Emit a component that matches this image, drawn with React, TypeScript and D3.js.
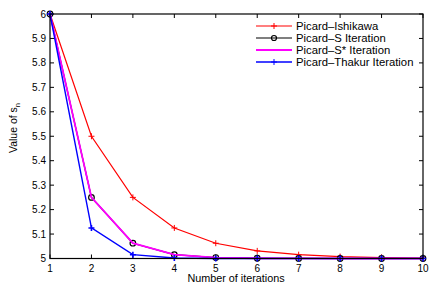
import React from "react";
import * as d3 from "d3";

const iterations = [1, 2, 3, 4, 5, 6, 7, 8, 9, 10];
const ishikawa = [6, 5.5, 5.25, 5.125, 5.0625, 5.03125, 5.015625, 5.0078, 5.0039, 5.002];
const picardS = [6, 5.25, 5.0625, 5.015625, 5.0039, 5.001, 5.0002, 5.0001, 5.0, 5.0];
const picardSStar = [6, 5.25, 5.0625, 5.015625, 5.0039, 5.001, 5.0002, 5.0001, 5.0, 5.0];
const thakur = [6, 5.125, 5.015625, 5.00195, 5.0002, 5.0, 5.0, 5.0, 5.0, 5.0];
const yTicks = [5, 5.1, 5.2, 5.3, 5.4, 5.5, 5.6, 5.7, 5.8, 5.9, 6];
const legendLabels = ["Picard\u2013Ishikawa", "Picard\u2013S Iteration", "Picard\u2013S* Iteration", "Picard\u2013Thakur Iteration"];

const W = 437, H = 289;
const L = 50, R = 423, T = 14, B = 258.5;
const font = "Liberation Sans, Arial, sans-serif";

export default function App() {
  const x = d3.scaleLinear().domain([1, 10]).range([L, R]);
  const y = d3.scaleLinear().domain([5, 6]).range([B, T]);
  const line = (vals: number[]) =>
    d3.line<number>().x((_, i) => x(iterations[i])).y((v) => y(v))(vals) || "";

  const plus = (cx: number, cy: number, c: string, k: string, w = 1) => (
    <path key={k} d={`M${cx - 3},${cy}H${cx + 3}M${cx},${cy - 3}V${cy + 3}`} stroke={c} strokeWidth={w} />
  );

  const series = [
    { vals: ishikawa, color: "#ff0000", marker: "plus", w: 1.2 },
    { vals: picardS, color: "#000000", marker: "circle", w: 1.2 },
    { vals: picardSStar, color: "#ff00ff", marker: "none", w: 1.8 },
    { vals: thakur, color: "#0000ff", marker: "plus", w: 1.4 },
  ];

  return (
    <svg width={W} height={H} style={{ position: "absolute", left: 0, top: 0, background: "#fff" }}>
      <rect x={0} y={0} width={W} height={H} fill="#fff" />
      {iterations.map((t) => (
        <g key={"xt" + t}>
          <line x1={x(t)} x2={x(t)} y1={B} y2={B - 4} stroke="#000" />
          <line x1={x(t)} x2={x(t)} y1={T} y2={T + 4} stroke="#000" />
          <text x={x(t)} y={B + 13} textAnchor="middle" fontFamily={font} fontSize={10}>{t}</text>
        </g>
      ))}
      {yTicks.map((t) => (
        <g key={"yt" + t}>
          <line x1={L} x2={L + 4} y1={y(t)} y2={y(t)} stroke="#000" />
          <line x1={R} x2={R - 4} y1={y(t)} y2={y(t)} stroke="#000" />
          <text x={L - 4} y={y(t) + 3.5} textAnchor="end" fontFamily={font} fontSize={10}>{d3.format("")(+t.toFixed(1))}</text>
        </g>
      ))}
      {series.map((s, si) => (
        <g key={"s" + si}>
          <path d={line(s.vals)} fill="none" stroke={s.color} strokeWidth={s.w} />
          {s.vals.map((v, i) =>
            s.marker === "plus"
              ? plus(x(iterations[i]), y(v), s.color, "m" + i, si === 3 ? 1.6 : 1)
              : s.marker === "circle"
              ? <circle key={"m" + i} cx={x(iterations[i])} cy={y(v)} r={2.8} fill="none" stroke={s.color} strokeWidth={1.2} />
              : null
          )}
        </g>
      ))}
      <rect x={L} y={T} width={R - L} height={B - T} fill="none" stroke="#000" strokeWidth={1.2} />
      <g>
        <rect x={250} y={19} width={168} height={50} fill="#fff" stroke="#fff" />
        {legendLabels.map((lab, i) => {
          const ly = 26 + i * 12;
          const s = series[i];
          return (
            <g key={"lg" + i}>
              <line x1={256} x2={292} y1={ly} y2={ly} stroke={s.color} strokeWidth={s.w} />
              {s.marker === "plus" && plus(274, ly, s.color, "lp" + i)}
              {s.marker === "circle" && <circle cx={274} cy={ly} r={2.5} fill="none" stroke={s.color} strokeWidth={1.2} />}
              <text x={296} y={ly + 4} fontFamily={font} fontSize={11.3}>{lab}</text>
            </g>
          );
        })}
      </g>
      <text x={236} y={282} textAnchor="middle" fontFamily={font} fontSize={10.8}>Number of iterations</text>
      <text transform={`translate(17,${128}) rotate(-90)`} textAnchor="middle" fontFamily={font} fontSize={10.5}>
        Value of s<tspan fontSize={7.5} dy={3}>n</tspan>
      </text>
    </svg>
  );
}
